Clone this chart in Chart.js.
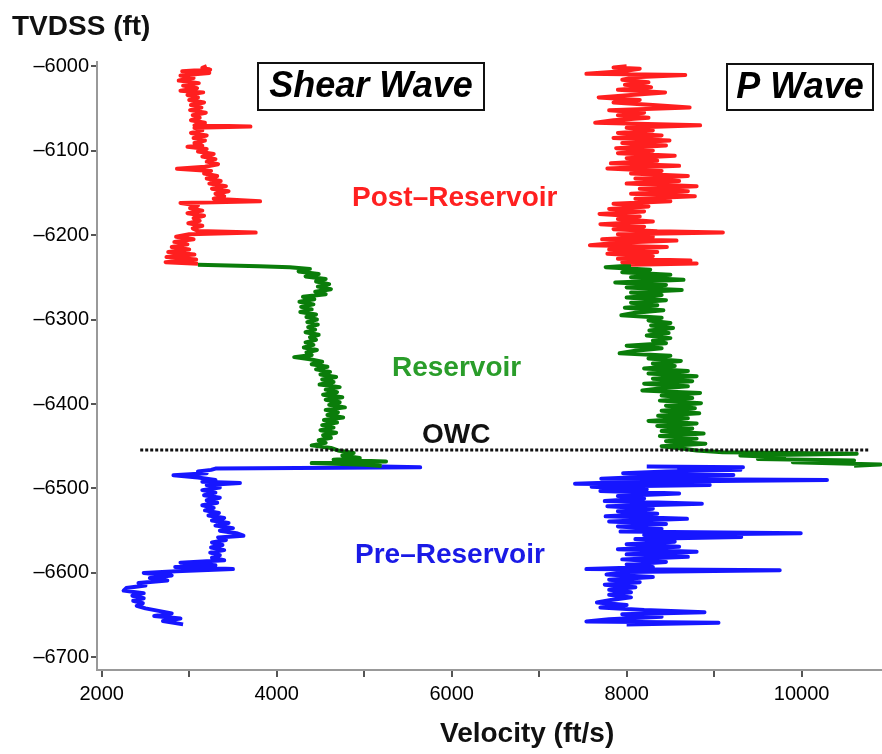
<!DOCTYPE html>
<html>
<head>
<meta charset="utf-8">
<script src="https://cdn.jsdelivr.net/npm/chart.js@4.4.1/dist/chart.umd.min.js"></script>
<style>
  html, body { margin: 0; padding: 0; background: #fff; }
  #wrap { width: 882px; height: 754px; }
</style>
</head>
<body>
<div id="wrap"><canvas id="logChart" width="882" height="754"></canvas></div>
<script>
// axis ticks
const xTickValues = [2000, 3000, 4000, 5000, 6000, 7000, 8000, 9000, 10000];
const xTickLabels = [2000, 4000, 6000, 8000, 10000];
const yTickValues = [-6700, -6600, -6500, -6400, -6300, -6200, -6100, -6000];

// oil-water contact
const owcDepth = -6454.5;
const owcVel = [2440, 10780];

// [depth ft, velocity ft/s]
const shearRed = [
  [-6000,3200],[-6002,3150],[-6004,3240],[-6006,2920],[-6008,3230],[-6011,2900],[-6014,3050],[-6017,2880],
  [-6020,3110],[-6023,2930],[-6026,3090],[-6029,2900],[-6031,3160],[-6034,2980],[-6037,3100],[-6040,3000],
  [-6043,3170],[-6046,3020],[-6049,3140],[-6052,3010],[-6055,3190],[-6058,3040],[-6061,3120],[-6064,3020],
  [-6067,3180],[-6070,3060],[-6071.5,3700],[-6073,3060],[-6076,3150],[-6079,3020],[-6082,3200],[-6085,3050],
  [-6088,3180],[-6091,3060],[-6094,3150],[-6095.5,2980],[-6098,3200],[-6101,3100],[-6104,3280],[-6107,3150],
  [-6110,3300],[-6113,3200],[-6116,3330],[-6119,3180],[-6121.5,2860],[-6124,3250],[-6127,3170],[-6130,3320],
  [-6133,3200],[-6136,3360],[-6139,3230],[-6142,3420],[-6145,3260],[-6148,3450],[-6151,3300],[-6154,3400],
  [-6157,3280],[-6160,3810],[-6162,2900],[-6165,3100],[-6168,3010],[-6171,3150],[-6174,2980],[-6177,3170],
  [-6180,3050],[-6183,3120],[-6186,2990],[-6189,3150],[-6192,3040],[-6195,3100],[-6197,3760],[-6199,3000],
  [-6202,2850],[-6205,3050],[-6208,2830],[-6211,2980],[-6214,2800],[-6217,3000],[-6220,2760],[-6223,3060],
  [-6226,2740],[-6229,3080],[-6232,2730],[-6234,3100]
];
const shearGreen = [
  [-6235,3100],[-6237,3800],[-6238,4150],[-6240,4380],[-6243,4250],[-6246,4480],[-6249,4330],[-6252,4560],
  [-6255,4450],[-6258,4600],[-6261,4470],[-6264,4620],[-6267,4440],[-6270,4560],[-6273,4300],[-6276,4430],
  [-6279,4260],[-6282,4420],[-6285,4280],[-6288,4400],[-6291,4270],[-6294,4450],[-6297,4340],[-6300,4460],
  [-6303,4350],[-6306,4470],[-6309,4360],[-6312,4440],[-6315,4330],[-6318,4480],[-6321,4380],[-6324,4450],
  [-6327,4330],[-6330,4420],[-6333,4310],[-6336,4460],[-6339,4340],[-6342,4400],[-6344.5,4200],[-6347,4380],
  [-6350,4520],[-6353,4400],[-6356,4580],[-6359,4450],[-6362,4610],[-6365,4500],[-6368,4680],[-6371,4520],
  [-6374,4650],[-6377,4490],[-6380,4720],[-6383,4560],[-6386,4690],[-6389,4530],[-6392,4750],[-6395,4560],
  [-6398,4720],[-6401,4600],[-6404,4780],[-6407,4560],[-6410,4700],[-6413,4580],[-6416,4760],[-6419,4540],
  [-6422,4690],[-6425,4520],[-6428,4650],[-6431,4500],[-6434,4680],[-6437,4530],[-6440,4620],[-6443,4480],
  [-6446,4560],[-6449,4400],[-6452,4620],[-6455,4700],[-6458,4880],[-6461,4750],[-6464,4950],[-6466,4650],
  [-6468,5250],[-6470,4400],[-6472,5000],[-6473.5,5200]
];
const shearBlue = [
  [-6474,5200],[-6475,5640],[-6476.5,3300],[-6478,3250],[-6480,3100],[-6482,3200],[-6484.5,2820],[-6487,3100],
  [-6490,3300],[-6492,3150],[-6493.5,3580],[-6496,3200],[-6499,3350],[-6502,3150],[-6505,3300],[-6508,3170],
  [-6511,3350],[-6514,3200],[-6517,3320],[-6520,3150],[-6523,3280],[-6526,3180],[-6529,3340],[-6532,3220],
  [-6535,3400],[-6538,3260],[-6541,3450],[-6544,3300],[-6547,3500],[-6550,3350],[-6553,3540],[-6556,3620],
  [-6558,3330],[-6561,3420],[-6564,3260],[-6567,3380],[-6570,3250],[-6573,3400],[-6576,3240],[-6579,3350],
  [-6582,3260],[-6585,3400],[-6588,2900],[-6591,3300],[-6593,2840],[-6595.5,3500],[-6598,2850],[-6600,2480],
  [-6603,2800],[-6606,2550],[-6609,2750],[-6612,2420],[-6615,2500],[-6618,2280],[-6621,2250],[-6624,2480],
  [-6627,2350],[-6630,2480],[-6633,2360],[-6636,2470],[-6639,2400],[-6642,2500],[-6645,2650],[-6648,2800],
  [-6651,2600],[-6654,2900],[-6657,2700],[-6661,2930]
];
const pRed = [
  [-6000,8000],[-6001.5,7850],[-6003,8150],[-6006,7950],[-6009,7540],[-6010.5,8670],[-6013,8100],[-6016,7950],
  [-6019,8250],[-6022,7980],[-6025,8280],[-6028,7900],[-6031,8440],[-6034,8050],[-6037,7680],[-6040,8150],
  [-6043,7850],[-6046,8300],[-6049,8720],[-6052,7800],[-6055,8200],[-6058,7900],[-6061,8250],[-6064,7850],
  [-6067,7640],[-6070,8840],[-6073,8000],[-6076,8300],[-6079,7900],[-6082,8400],[-6085,7850],[-6088,8490],
  [-6091,7950],[-6094,8450],[-6097,7880],[-6100,8300],[-6103,7900],[-6106,8550],[-6109,8000],[-6112,8350],
  [-6115,7820],[-6118,8600],[-6121,7780],[-6124,8400],[-6127,8050],[-6130,8700],[-6133,8100],[-6136,8600],
  [-6139,8000],[-6142,8800],[-6145,8150],[-6148,8700],[-6151,8050],[-6154,8780],[-6157,8100],[-6160,8500],
  [-6163,7850],[-6166,8250],[-6169,7800],[-6172,8200],[-6175,7690],[-6178,8150],[-6181,7900],[-6184,8300],
  [-6187,7700],[-6190,8200],[-6193,7850],[-6195.5,8350],[-6197,9100],[-6199,7900],[-6202,8300],[-6205,7720],
  [-6206.5,8570],[-6209,7900],[-6212,7580],[-6214,8460],[-6217,7800],[-6220,8350],[-6222,7780],[-6225,8300],
  [-6228,7900],[-6230,8730],[-6232,7950],[-6233.5,8800],[-6235,8050]
];
const pGreen = [
  [-6236,8050],[-6238,7760],[-6241,8270],[-6244,7950],[-6247,8500],[-6250,8050],[-6253,8650],[-6256,7870],
  [-6259,8450],[-6262,8000],[-6265,8630],[-6268,8050],[-6271,8400],[-6274,8000],[-6277,8450],[-6280,8050],
  [-6283,8350],[-6286,7980],[-6289,8420],[-6292,8100],[-6295,7940],[-6298,8400],[-6301,8250],[-6304,8500],
  [-6307,8280],[-6310,8530],[-6313,8260],[-6316,8480],[-6319,8230],[-6322,8500],[-6325,8300],[-6328,8450],
  [-6331,8000],[-6334,8400],[-6337,8100],[-6340,7920],[-6343,8500],[-6346,8250],[-6349,8620],[-6352,8300],
  [-6355,8550],[-6358,8200],[-6361,8700],[-6364,8250],[-6367,8800],[-6370,8300],[-6373,8750],[-6376,8200],
  [-6379,8700],[-6382,8350],[-6384,8180],[-6387,8840],[-6390,8400],[-6393,8750],[-6396,8380],[-6399,8850],
  [-6402,8450],[-6405,8780],[-6408,8400],[-6411,8830],[-6414,8360],[-6417,8700],[-6420,8250],[-6423,8800],
  [-6426,8350],[-6429,8750],[-6432,8400],[-6435,8880],[-6438,8380],[-6441,8800],[-6444,8450],[-6447,8900],
  [-6450,8400],[-6453,8650],[-6455,8800],[-6457,9100],[-6459,10630],[-6461,9300],[-6463,9800],[-6465,9500],
  [-6467,10600],[-6469,9900],[-6471.5,10900],[-6473,10600]
];
const pBlue = [
  [-6474,8230],[-6475,9330],[-6476.5,8600],[-6478,9300],[-6480,8450],[-6482,7960],[-6484,9220],[-6486,8300],
  [-6488.5,7710],[-6490,10290],[-6492,8100],[-6494.5,7410],[-6496,8950],[-6498,7600],[-6501,8230],[-6503,7700],
  [-6506,8600],[-6509,7900],[-6512,8200],[-6515,7750],[-6518,8860],[-6521,7780],[-6524,8300],[-6527,7900],
  [-6530,8350],[-6533,7760],[-6536,8690],[-6539,7800],[-6542,8450],[-6545,7900],[-6548,8400],[-6551,7930],
  [-6553,9990],[-6555,8200],[-6557.5,9310],[-6560,8100],[-6563,8550],[-6566,8000],[-6569,8600],[-6572,7900],
  [-6575,8800],[-6578,8000],[-6581,8700],[-6584,7950],[-6587,8450],[-6590,8000],[-6593,8300],[-6595.5,7540],
  [-6597,9750],[-6599,8000],[-6602,7770],[-6605,8300],[-6608,7800],[-6611,8150],[-6614,7750],[-6617,8100],
  [-6620,7800],[-6623,8050],[-6626,7800],[-6629,8050],[-6632,7820],[-6635,7660],[-6638,8000],[-6641,7700],
  [-6644,8200],[-6646.5,8890],[-6649,7950],[-6652,8400],[-6655,7800],[-6657.5,7540],[-6659,9050],[-6661,8000]
];

const FONT = '"Liberation Sans", Arial, Helvetica, sans-serif';
const RED = '#ff1f1f', GREEN = '#0a7d0a', BLUE = '#1616ff';

function toPoints(rows) {
    return rows.map(r => ({ x: r[1], y: r[0] }));
}

function trace(rows, color) {
    return {
        data: toPoints(rows),
        borderColor: color,
        borderWidth: 4,
        borderJoinStyle: 'round',
        pointRadius: 0,
        showLine: true,
        tension: 0,
        order: 2
    };
}

function boxedTitle(c, text, x, y, w, h) {
    c.fillStyle = '#fff';
    c.fillRect(x, y, w, h);
    c.lineWidth = 2;
    c.strokeStyle = '#111';
    c.strokeRect(x, y, w, h);
    c.fillStyle = '#000';
    c.font = 'italic bold 36px ' + FONT;
    c.textAlign = 'center';
    c.textBaseline = 'middle';
    c.fillText(text, x + w / 2, y + h / 2 + 1);
}

// titles and zone labels
const annotate = {
    id: 'annotate',
    afterDraw(chart) {
        const c = chart.ctx;
        c.save();
        c.textAlign = 'left';
        c.textBaseline = 'alphabetic';
        c.fillStyle = '#111';
        c.font = 'bold 28px ' + FONT;
        c.fillText('TVDSS (ft)', 12, 35);
        c.fillText('Velocity (ft/s)', 440, 742);

        c.fillStyle = '#ff2020';
        c.fillText('Post\u2013Reservoir', 352, 206);
        c.fillStyle = '#2a9d2a';
        c.fillText('Reservoir', 392, 376);
        c.fillStyle = '#111';
        c.fillText('OWC', 422, 443);
        c.fillStyle = '#1a1ae6';
        c.fillText('Pre\u2013Reservoir', 355, 563);

        boxedTitle(c, 'Shear Wave', 258, 63, 226, 47);
        boxedTitle(c, 'P Wave', 727, 64, 146, 46);
        c.restore();
    }
};

const ctx = document.getElementById('logChart').getContext('2d');
new Chart(ctx, {
    type: 'scatter',
    data: {
        datasets: [
            {
                data: owcVel.map(v => ({ x: v, y: owcDepth })),
                borderColor: '#111',
                borderWidth: 3,
                borderDash: [3, 2],
                pointRadius: 0,
                showLine: true,
                order: 0
            },
            trace(shearRed, RED),
            trace(shearGreen, GREEN),
            trace(shearBlue, BLUE),
            trace(pRed, RED),
            trace(pGreen, GREEN),
            trace(pBlue, BLUE)
        ]
    },
    options: {
        responsive: false,
        animation: false,
        devicePixelRatio: 1,
        layout: { padding: { top: 62, left: 0, right: 0, bottom: 0 } },
        plugins: {
            legend: { display: false },
            tooltip: { enabled: false }
        },
        scales: {
            x: {
                type: 'linear',
                min: 1946,
                max: 10919,
                afterFit(s) { s.height = 84; },
                afterBuildTicks(s) { s.ticks = xTickValues.map(v => ({ value: v })); },
                ticks: {
                    callback: v => xTickLabels.includes(v) ? String(v) : '',
                    font: { family: FONT, size: 20 },
                    color: '#000',
                    padding: 5,
                    maxRotation: 0,
                    autoSkip: false
                },
                grid: { drawOnChartArea: false, drawTicks: true, tickLength: 7, color: '#555', lineWidth: 2 },
                border: { display: true, color: '#999', width: 2 }
            },
            y: {
                type: 'linear',
                min: -6715,
                max: -5995,
                afterFit(s) { s.width = 97; },
                afterBuildTicks(s) { s.ticks = yTickValues.map(v => ({ value: v })); },
                ticks: {
                    callback: v => String(v).replace('-', '\u2013'),
                    font: { family: FONT, size: 20 },
                    color: '#000',
                    padding: 2,
                    autoSkip: false
                },
                grid: { drawOnChartArea: false, drawTicks: true, tickLength: 6, color: '#555', lineWidth: 2 },
                border: { display: true, color: '#999', width: 2 }
            }
        }
    },
    plugins: [annotate]
});
</script>
</body>
</html>
